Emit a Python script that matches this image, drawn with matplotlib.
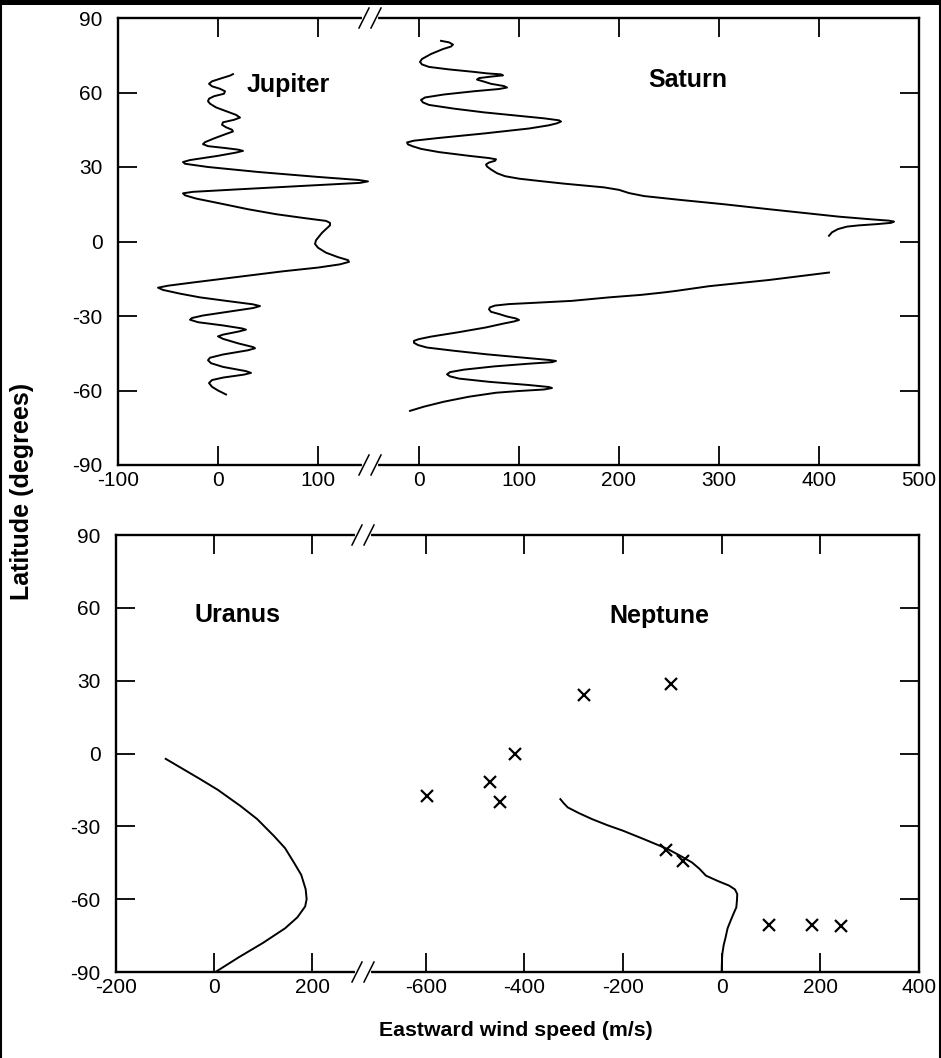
import matplotlib
matplotlib.use('Agg')
import matplotlib.pyplot as plt
from matplotlib.lines import Line2D
from matplotlib.patches import Rectangle

plt.rcParams['font.family'] = ['Liberation Sans', 'DejaVu Sans']
plt.rcParams['axes.unicode_minus'] = False

# ---------------- data (latitude in degrees, eastward wind in m/s) ----------------
jupiter_lat = [67.4, 66.8, 65.8, 64.5, 63.5, 62.5, 61.5, 60.5, 59.5, 58.5, 57.5, 56.5, 55.5, 54,
               52.5, 51, 49.9, 49, 48, 47, 46, 45, 44.3, 43.3, 41.5, 40, 39.2, 38.4, 37.6, 37,
               36.5, 35.8, 34.5, 32.8, 32, 31.3, 30, 28, 26, 24.8, 24.2, 23.6, 22.5, 21, 20,
               19.4, 18.6, 17.3, 15.5, 13, 11, 9.5, 8.3, 7.5, 6.5, 5, 3.5, 2, 0.5, -1, -2.5,
               -4.5, -6.3, -7.5, -8.2, -9.2, -10.5, -12, -14.5, -16.5, -17.8, -18.6, -19.5,
               -21, -22.5, -24, -25.3, -26, -26.8, -28, -29.8, -30.8, -31.5, -32.5, -33.8,
               -35, -35.5, -36.3, -37.5, -38.2, -39.2, -41, -42.5, -43, -43.8, -45.5, -46.8,
               -47.8, -49, -50.5, -52.2, -52.9, -53.6, -54.8, -55.8, -57, -58.5, -60, -61.6]
jupiter_u = [15, 12, 4, -6, -9, -6, 2, 7, 6, -4, -9, -10, -8, -2,
             8, 18, 22, 16, 5, 4, 8, 14, 15, 8, -4, -13, -15, -10, 8, 20,
             25, 18, 0, -28, -35, -33, -10, 40, 100, 140, 150, 142, 90, 20, -25,
             -35, -33, -22, 0, 30, 58, 85, 108, 112, 112, 108, 104, 101, 98, 97, 100,
             108, 120, 130, 131, 122, 100, 65, 15, -25, -50, -60, -55,
             -38, -18, 10, 35, 42, 35, 15, -15, -26, -28, -20, 5,
             24, 28, 20, 5, 0, 5, 20, 35, 37, 30, 5, -8,
             -10, -7, 5, 28, 33, 26, 5, -6, -9, -6, 0, 8]

saturn_n_lat = [80.8, 80.2, 79.3, 78.5, 77.5, 75.5, 73.5, 72.3, 71.3, 70.3, 69.3, 68.3, 67.7,
                67.3, 66.9, 66.4, 65.8, 65.2, 64.5, 63.5, 62.6, 62, 61.4, 60.5, 59.2, 58, 57,
                56, 55, 53.5, 52, 50.8, 49.6, 48.8, 48.3, 47.6, 46.8, 45.5, 43.5, 41.7, 40.6,
                39.9, 39.1, 38.3, 37.3, 36, 34.5, 33.6, 33.1, 32.5, 31.8, 31, 30.2, 29, 27.5,
                26.3, 25.3, 24.3, 23.3, 21.8, 20.8, 19.5, 18.3, 16.8, 15, 13, 11.5, 10, 9,
                8.4, 8, 7.5, 7, 6.5, 6, 5, 3.7, 2.3]
saturn_n_u = [22, 30, 34, 32, 24, 12, 3, 1, 3, 10, 30, 55, 68,
              82, 84, 72, 60, 58, 64, 72, 85, 88, 80, 55, 25, 6, 2,
              4, 10, 35, 65, 95, 125, 140, 142, 138, 130, 110, 65, 20, -5,
              -12, -11, -6, 2, 20, 50, 70, 77, 76, 70, 67, 68, 72, 78,
              86, 100, 122, 145, 185, 200, 210, 225, 260, 305, 350, 385, 420, 450,
              470, 475, 472, 458, 440, 428, 419, 413, 410]
saturn_s_lat = [-12.5, -14, -15.5, -16.5, -18, -19.9, -20.5, -21.5, -22.5, -23.9, -24.7, -25.2,
                -25.8, -26.5, -27.3, -28.3, -29.2, -30.2, -31, -31.6, -32.2, -33, -34.6,
                -36.5, -38.3, -39.3, -40, -40.8, -41.7, -42.7, -44, -45.4, -46.8, -47.7,
                -48.1, -48.6, -49.2, -50.3, -51.6, -52.6, -53.5, -54.3, -55.2, -56.5, -57.8,
                -58.6, -59, -59.6, -60.2, -60.9, -62.5, -64.5, -66.5, -68.2]
saturn_s_u = [410, 380, 350, 326, 290, 257, 245, 222, 190, 153, 115, 90,
              76, 71, 70, 72, 80, 88, 97, 100, 95, 85, 67,
              40, 12, 0, -5, -5, -1, 8, 35, 67, 105, 130,
              137, 133, 110, 75, 45, 31, 28, 31, 40, 70, 110,
              130, 133, 125, 100, 77, 50, 25, 5, -9]

uranus_lat = [-2.2, -5, -10.7, -15, -21.7, -27, -34, -39, -44.9, -50, -55.9, -60, -63, -67.5,
              -72, -78, -84, -90]
uranus_u = [-98.6, -75, -27, 8, 54.5, 88, 122.4, 145, 163, 178, 187, 189, 186, 170,
            145, 100, 50, 3]

neptune_lat = [-18.8, -20.5, -22.2, -24.5, -27, -29.5, -31.8, -35.5, -39.4, -42, -44.9, -47.5,
               -50.3, -52.5, -54.4, -56, -57.9, -60.5, -63.4, -66, -68.8, -72, -75.7, -79,
               -82.6, -86, -89.4]
neptune_u = [-327, -320, -312, -290, -263, -232, -200, -155, -109, -85, -60, -45,
             -32, -8, 15, 27, 31.6, 31, 29.7, 24, 18.3, 12, 8, 4,
             1.3, 0.5, 0]

neptune_pts_lat = [-17.7, -11.9, -19.9, 0, 24.2, 28.8, -39.8, -44.2, -70.5, -70.5, -71]
neptune_pts_u = [-598, -470, -450, -419, -279, -102, -112, -79, 95, 183, 242]

lat_ticks = [-90, -60, -30, 0, 30, 60, 90]
jup_ticks = [-100, 0, 100]
sat_ticks = [0, 100, 200, 300, 400, 500]
ura_ticks = [-200, 0, 200]
nep_ticks = [-600, -400, -200, 0, 200, 400]

# ---------------- figure ----------------
W, H = 941, 1058
fig = plt.figure(figsize=(W / 100, H / 100), dpi=100)


def fx(px):
    return px / W


def fy(py):
    return 1 - py / H


LW_FRAME = 1.7
TICK_FS = 15


def make_pair(left, brk, right, top, bottom, xl1, xl2, t1, t2):
    a1 = fig.add_axes([fx(left), fy(bottom), fx(brk) - fx(left), fy(top) - fy(bottom)])
    a2 = fig.add_axes([fx(brk), fy(bottom), fx(right) - fx(brk), fy(top) - fy(bottom)], sharey=a1)
    for a in (a1, a2):
        for s in a.spines.values():
            s.set_linewidth(LW_FRAME)
        a.set_ylim(-90, 90)
        a.set_yticks(lat_ticks)
    a1.spines['right'].set_visible(False)
    a2.spines['left'].set_visible(False)
    a1.set_xlim(*xl1)
    a2.set_xlim(*xl2)
    a1.set_xticks(t1)
    a2.set_xticks(t2)
    a1.tick_params(axis='both', direction='in', length=14, width=1.3, top=True, bottom=True,
                   left=True, right=False, labelsize=TICK_FS)
    a1.tick_params(axis='y', pad=11)
    a1.tick_params(axis='x', pad=4)
    a2.tick_params(axis='both', direction='in', length=14, width=1.3, top=True, bottom=True,
                   left=False, right=True, labelleft=False, labelsize=TICK_FS)
    a2.tick_params(axis='x', pad=4)
    # break marks "//"
    for py in (top, bottom):
        fig.add_artist(Line2D([fx(brk - 6), fx(brk + 6)], [fy(py), fy(py)],
                              color='white', lw=3, zorder=10))
        for off in (-6, 6):
            fig.add_artist(Line2D([fx(brk + off - 5), fx(brk + off + 5)],
                                  [fy(py + 10), fy(py - 10)],
                                  color='black', lw=1.1, zorder=11))
    return a1, a2


# top panel: Jupiter | Saturn
ax_j, ax_s = make_pair(118, 370, 919, 18, 465, (-100, 152), (-49, 500), jup_ticks, sat_ticks)
ax_j.plot(jupiter_u, jupiter_lat, color='black', lw=1.4)
ax_s.plot(saturn_n_u, saturn_n_lat, color='black', lw=1.4)
ax_s.plot(saturn_s_u, saturn_s_lat, color='black', lw=1.4)
ax_j.text(29, 63, 'Jupiter', fontsize=18, fontweight='bold', ha='left', va='center')
ax_s.text(229, 65, 'Saturn', fontsize=18, fontweight='bold', ha='left', va='center')

# bottom panel: Uranus | Neptune
ax_u, ax_n = make_pair(116, 363, 919, 535, 972, (-200, 304), (-727, 400), ura_ticks, nep_ticks)
ax_u.plot(uranus_u, uranus_lat, color='black', lw=1.4)
ax_n.plot(neptune_u, neptune_lat, color='black', lw=1.4)
ax_n.plot(neptune_pts_u, neptune_pts_lat, linestyle='none', marker='x', color='black',
          markersize=9, markeredgewidth=1.6)
ax_u.text(-39, 57, 'Uranus', fontsize=18, fontweight='bold', ha='left', va='center')
ax_n.text(-227, 56.8, 'Neptune', fontsize=18, fontweight='bold', ha='left', va='center')

# axis titles
fig.text(fx(22), fy(491), 'Latitude (degrees)', rotation=90, fontsize=18, fontweight='bold',
         ha='center', va='center')
fig.text(fx(516), fy(1030), 'Eastward wind speed (m/s)', fontsize=15.3, fontweight='bold',
         ha='center', va='center')

# scan border
fig.add_artist(Rectangle((0, fy(5)), 1, 1 - fy(5), transform=fig.transFigure,
                         facecolor='black', edgecolor='none', zorder=20))
fig.add_artist(Line2D([fx(1), fx(1)], [0, 1], color='black', lw=1.5, zorder=20))
fig.add_artist(Line2D([fx(940), fx(940)], [0, 1], color='black', lw=1.5, zorder=20))

fig.savefig('out.png', dpi=100)
